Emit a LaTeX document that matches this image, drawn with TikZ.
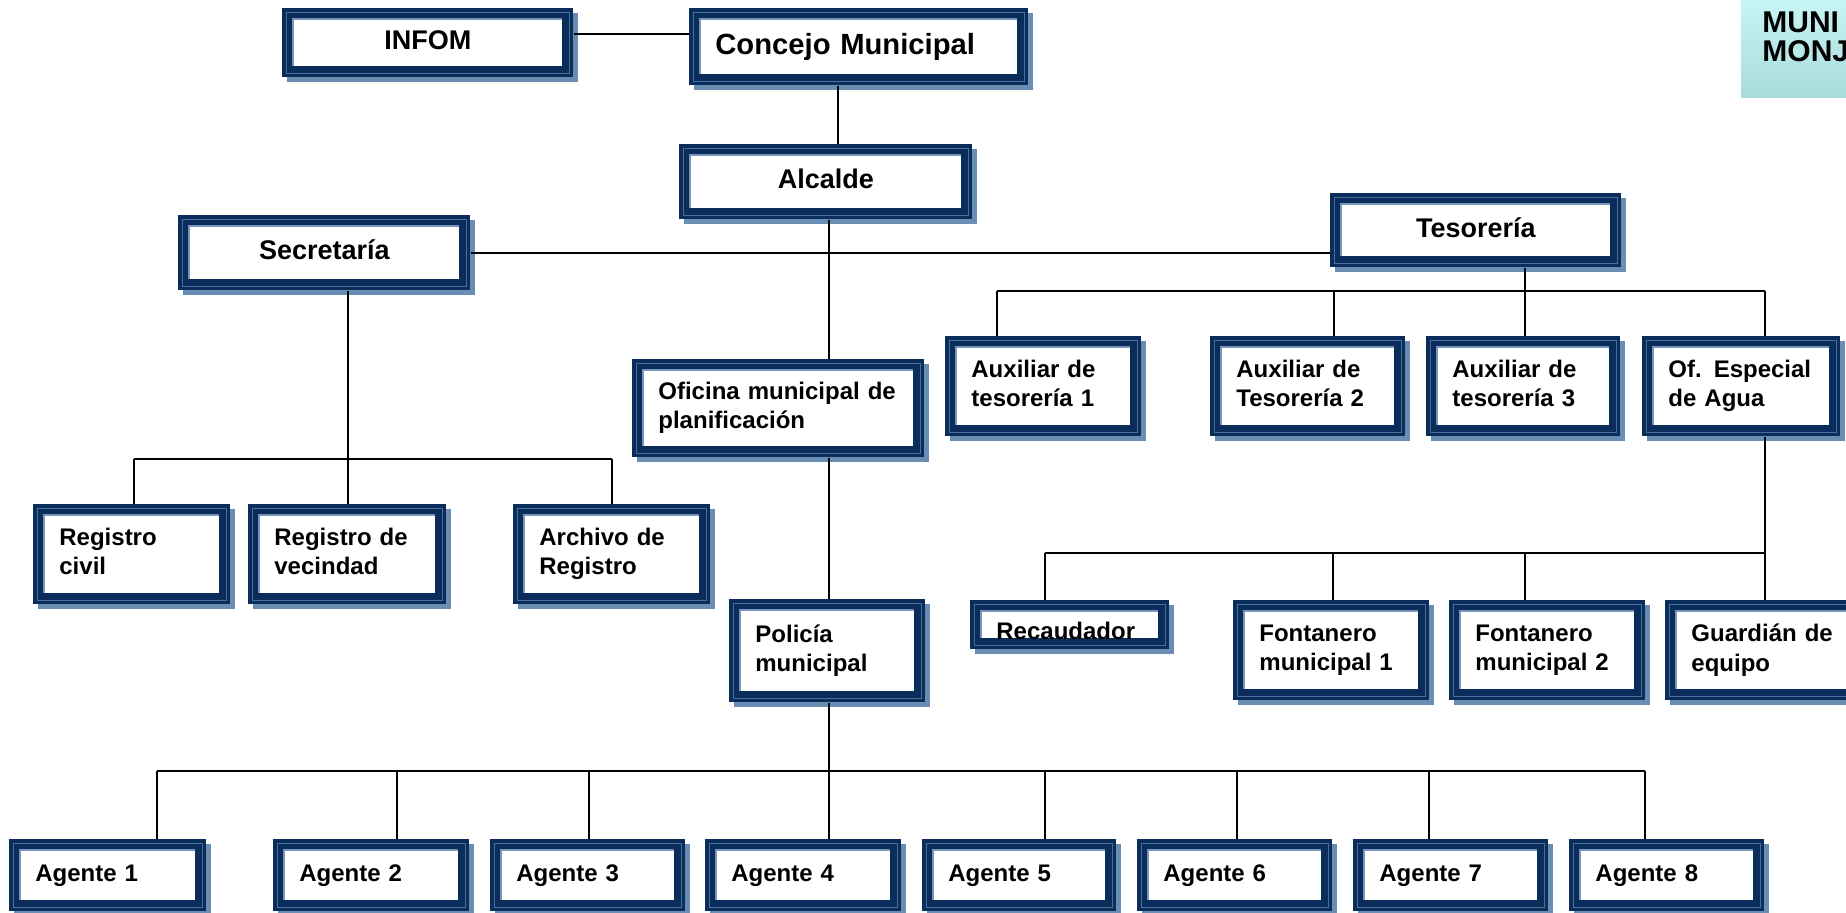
\documentclass[tikz,border=0pt]{standalone}
\usepackage{fontspec}
\setmainfont{Liberation Sans}
\usetikzlibrary{calc}
\definecolor{navy}{HTML}{0B2D5B}
\definecolor{hair}{HTML}{4A6E9A}
\definecolor{bevel}{HTML}{7896BC}
\definecolor{shadowblue}{HTML}{6A8DB4}
\definecolor{munitop}{HTML}{C8F5F5}
\definecolor{munibot}{HTML}{A8DADA}
\tikzset{
  orgbox/.style={rectangle, fill=navy, inner ysep=0pt, inner xsep=13pt,
    anchor=north west, text=black,
    font=\bfseries\fontsize{12}{14.7}\selectfont,
    path picture={
      \draw[hair, line width=0.6pt]
        ([shift={(1.9pt,-1.9pt)}]path picture bounding box.north west) rectangle
        ([shift={(-1.9pt,1.9pt)}]path picture bounding box.south east);
      \fill[bevel]
        ([shift={(4.6pt,-4.6pt)}]path picture bounding box.north west) rectangle
        ([shift={(-5.6pt,5.6pt)}]path picture bounding box.south east);
      \fill[white]
        ([shift={(5.9pt,-5.9pt)}]path picture bounding box.north west) rectangle
        ([shift={(-5.6pt,5.6pt)}]path picture bounding box.south east);
    }},
  twoline/.style={text depth=17.6pt},
  shadowbox/.style={fill=shadowblue},
  conn/.style={draw=black, line width=1pt},
  titlefont/.style={font=\bfseries\fontsize{13.5}{16}\selectfont, align=center, text depth=3pt},
}
\newcommand\OrgB[7][]{%
  \pgfmathsetmacro\obw{(#5-#3)*0.5}%
  \pgfmathsetmacro\obh{(#6-#4)*0.5}%
  \pgfmathsetmacro\obt{(#5-#3)*0.5-26}%
  \fill[shadowbox] (#3+5,#4+5) rectangle (#5+5,#6+5);
  \node[orgbox, minimum width=\obw pt, minimum height=\obh pt,
        text width=\obt pt, align=left, #1] (#2) at (#3,#4) {#7};
}
\newcommand\Drop[3]{\draw[conn] ([xshift=#2]#1.north) -- ([xshift=#2]#1.north |- #3);}
\begin{document}
\begin{tikzpicture}[x=0.5pt, y=-0.5pt]
\useasboundingbox (0,0) rectangle (1846,913);
\fill[white] (0,0) rectangle (1846,913);
\clip (0,0) rectangle (1846,913);

% bus levels
\coordinate (tbus) at (0,291);
\coordinate (wbus) at (0,553);
\coordinate (sbus) at (0,459);
\coordinate (pbus) at (0,771);

% title box
\shade[top color=munitop, bottom color=munibot] (1741,0) rectangle (1860,98);
\node[anchor=north west, inner sep=0pt, align=left,
      font=\bfseries\fontsize{15}{14.6}\selectfont] (muni) at (1762,11) {MUNI\\MONJ};

% boxes
\OrgB[titlefont]{infom}{282}{8}{573}{77}{INFOM}
\OrgB[titlefont, font=\bfseries\fontsize{14.6}{17}\selectfont, align=left]{concejo}{689}{8}{1028}{85}{Concejo Municipal}
\OrgB[titlefont]{alcalde}{679}{144}{972}{219}{Alcalde}
\OrgB[titlefont]{secretaria}{178}{215}{470}{290}{Secretaría}
\OrgB[titlefont]{tesoreria}{1330}{193}{1621}{267}{Tesorería}

\OrgB[twoline]{aux1}{945}{336}{1141}{436}{Auxiliar de\\tesorería 1}
\OrgB[twoline]{aux2}{1210}{336}{1405}{436}{Auxiliar de\\Tesorería 2}
\OrgB[twoline]{aux3}{1426}{336}{1620}{436}{Auxiliar de\\tesorería 3}
\OrgB[twoline]{ofesp}{1642}{336}{1840}{436}{Of. Especial\\de Agua}

\OrgB[text height=14.6pt]{recaud}{970}{600}{1169}{649}{Recaudador}
\OrgB[twoline]{font1}{1233}{600}{1429}{700}{Fontanero\\municipal 1}
\OrgB[twoline]{font2}{1449}{600}{1645}{700}{Fontanero\\municipal 2}
\OrgB[twoline]{guard}{1665}{600}{1861}{700}{Guardián de\\equipo}

\OrgB[twoline]{regc}{33}{504}{230}{604}{Registro\\civil}
\OrgB[twoline]{regv}{248}{504}{446}{604}{Registro de\\vecindad}
\OrgB[twoline]{arch}{513}{504}{710}{604}{Archivo de\\Registro}

\OrgB[twoline]{oficina}{632}{359}{924}{457}{Oficina municipal de\\planificación}
\OrgB[twoline]{policia}{729}{599}{925}{702}{Policía\\municipal}

\OrgB{a1}{9}{839}{206}{911}{Agente 1}
\OrgB{a2}{273}{839}{469}{911}{Agente 2}
\OrgB{a3}{490}{839}{685}{911}{Agente 3}
\OrgB{a4}{705}{839}{901}{911}{Agente 4}
\OrgB{a5}{922}{839}{1116}{911}{Agente 5}
\OrgB{a6}{1137}{839}{1332}{911}{Agente 6}
\OrgB{a7}{1353}{839}{1548}{911}{Agente 7}
\OrgB{a8}{1569}{839}{1764}{911}{Agente 8}

% connectors
\draw[conn] ([yshift=4.25pt]infom.east) -- ([yshift=4.25pt]infom.east -| concejo.west);
\draw[conn] ([xshift=-10.5pt]concejo.south) -- ([xshift=-10.5pt]concejo.south |- alcalde.north);
\draw[conn] ([xshift=1.5pt]alcalde.south) -- ([xshift=1.5pt]alcalde.south |- oficina.north);
\draw[conn] (secretaria.east) -- (secretaria.east -| tesoreria.west);

% tesoreria
\draw[conn] ([xshift=1pt]aux3.north) -- ([xshift=1pt]aux3.north |- tesoreria.south);
\draw[conn] ([xshift=-23pt]aux1.north |- tbus) -- ([xshift=12pt]ofesp.north |- tbus);
\Drop{aux1}{-23pt}{tbus}
\Drop{aux2}{13pt}{tbus}
\Drop{ofesp}{12pt}{tbus}

% agua
\draw[conn] ([xshift=12pt]ofesp.south) -- ([xshift=12pt]ofesp.south |- guard.north);
\draw[conn] ([xshift=-12.5pt]recaud.north |- wbus) -- ([xshift=12pt]ofesp.south |- wbus);
\Drop{recaud}{-12.5pt}{wbus}
\Drop{font1}{1pt}{wbus}
\Drop{font2}{-11pt}{wbus}

% secretaria
\draw[conn] ([xshift=12pt]secretaria.south) -- ([xshift=12pt]secretaria.south |- sbus);
\draw[conn] ([xshift=1pt]regc.north |- sbus) -- (arch.north |- sbus);
\Drop{regc}{1pt}{sbus}
\Drop{regv}{0.5pt}{sbus}
\Drop{arch}{0pt}{sbus}

% planificacion / policia
\draw[conn] ([xshift=1pt]policia.north |- oficina.south) -- ([xshift=1pt]policia.north);
\draw[conn] ([xshift=1pt]policia.south) -- ([xshift=1pt]policia.south |- pbus);
\draw[conn] ([xshift=24.5pt]a1.north |- pbus) -- ([xshift=-11pt]a8.north |- pbus);
\Drop{a1}{24.5pt}{pbus}
\Drop{a2}{13pt}{pbus}
\Drop{a3}{0.5pt}{pbus}
\Drop{a4}{13pt}{pbus}
\Drop{a5}{12.7pt}{pbus}
\Drop{a6}{1pt}{pbus}
\Drop{a7}{-11pt}{pbus}
\Drop{a8}{-11pt}{pbus}
\end{tikzpicture}
\end{document}
